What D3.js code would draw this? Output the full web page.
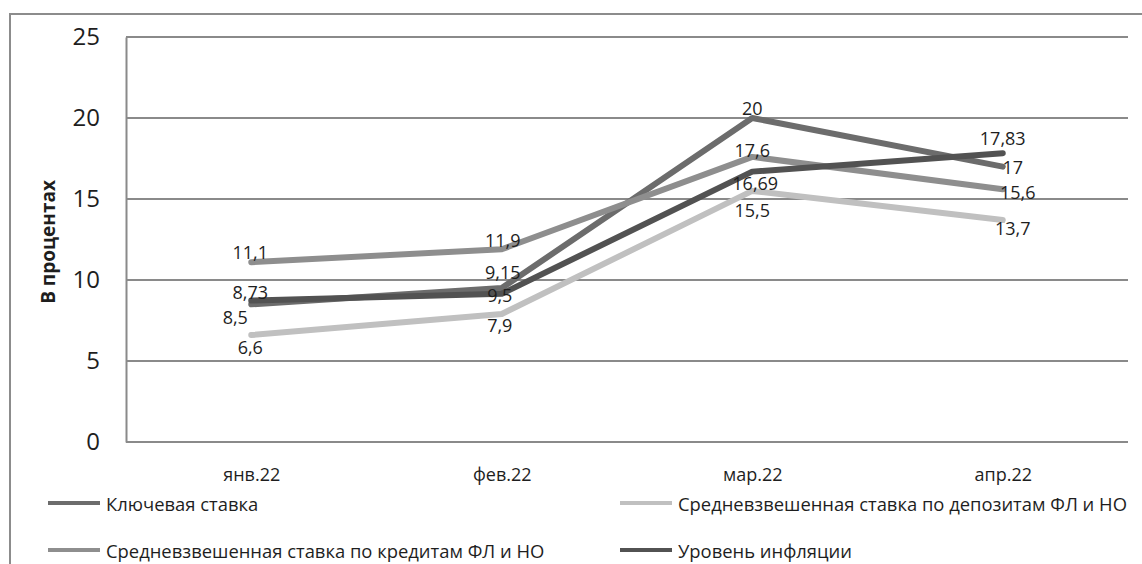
<!DOCTYPE html>
<html><head><meta charset="utf-8">
<script src="https://cdn.jsdelivr.net/npm/d3@7"></script>
<style>
html,body{margin:0;padding:0;background:#fff;}
svg text{font-family:"Open Sans","Noto Sans",sans-serif;fill:#1e1e1e;}
</style></head>
<body><svg id="c" width="1142" height="564"></svg>
<script>
// ---- data ----
const categories = ["янв.22", "фев.22", "мар.22", "апр.22"];
const keyRate     = [8.5, 9.5, 20, 17];
const depositRate = [6.6, 7.9, 15.5, 13.7];
const creditRate  = [11.1, 11.9, 17.6, 15.6];
const inflation   = [8.73, 9.15, 16.69, 17.83];
const yTicks = [0, 5, 10, 15, 20, 25];
const seriesNames = [
  "Ключевая ставка",
  "Средневзвешенная ставка по депозитам ФЛ и НО",
  "Средневзвешенная ставка по кредитам ФЛ и НО",
  "Уровень инфляции"
];
const yTitle = "В процентах";

// ---- styling / placement ----
const colors = ["#6c6c6c", "#c0c0c0", "#8e8e8e", "#525252"];
const series = [keyRate, depositRate, creditRate, inflation];
// label offsets (dx, dy) of label centre from the point
const labelOffsets = [
  [[-16, 13], [-2, 7], [0, -10], [10, 0]],
  [[-1, 12], [-2, 11], [0, 19], [10, 8]],
  [[-1, -10], [1, -9], [0, -7], [15, 3]],
  [[-1, -9], [1, -22], [3, 11], [0, -15]]
];

const svg = d3.select("#c");
// outer frame
svg.append("rect").attr("x", 10).attr("y", 14).attr("width", 1150).attr("height", 570)
  .attr("fill", "none").attr("stroke", "#8c8c8c").attr("stroke-width", 2);

const x = d3.scalePoint().domain(categories).range([126, 1128]).padding(0.5);
const y = d3.scaleLinear().domain([0, 25]).range([442, 37]);

// gridlines
svg.append("g").selectAll("line").data(yTicks.filter(t => t > 0)).join("line")
  .attr("x1", 126).attr("x2", 1128)
  .attr("y1", d => y(d)).attr("y2", d => y(d))
  .attr("stroke", "#8a8a8a").attr("stroke-width", 2);

// y axis
const yAxis = svg.append("g").attr("transform", "translate(126,0)")
  .call(d3.axisLeft(y).tickValues(yTicks).tickSize(0).tickPadding(26));
yAxis.select(".domain").attr("stroke", "#8a8a8a").attr("stroke-width", 2);
yAxis.selectAll("text").style("font-size", "24px").attr("fill", "#1e1e1e")
  .style("font-family", '"Open Sans","Noto Sans",sans-serif');

// x axis
const xAxis = svg.append("g").attr("transform", "translate(0,442)")
  .call(d3.axisBottom(x).tickSize(0).tickPadding(26));
xAxis.select(".domain").attr("stroke", "#8a8a8a").attr("stroke-width", 2)
  .attr("d", "M126,0H1128");
xAxis.selectAll("text").style("font-size", "18px").attr("fill", "#1e1e1e")
  .style("font-family", '"Open Sans","Noto Sans",sans-serif');

// y title
svg.append("text").attr("transform", "translate(48,242) rotate(-90)")
  .attr("text-anchor", "middle").attr("dominant-baseline", "central")
  .style("font-size", "19px").style("font-weight", "bold").text(yTitle);

// lines
const line = d3.line().x((d, i) => x(categories[i])).y(d => y(d));
series.forEach((s, k) => {
  svg.append("path").datum(s).attr("d", line)
    .attr("fill", "none").attr("stroke", colors[k]).attr("stroke-width", 6)
    .attr("stroke-linejoin", "round").attr("stroke-linecap", "round");
});

// data labels
series.forEach((s, k) => {
  svg.append("g").selectAll("text").data(s).join("text")
    .attr("x", (d, i) => x(categories[i]) + labelOffsets[k][i][0])
    .attr("y", (d, i) => y(d) + labelOffsets[k][i][1])
    .attr("text-anchor", "middle").attr("dominant-baseline", "central")
    .style("font-size", "18px")
    .text(d => String(d).replace(".", ","));
});

// legend
const legendPos = [[48, 503], [620, 503], [48, 550], [620, 550]];
seriesNames.forEach((name, k) => {
  const [lx, ly] = legendPos[k];
  svg.append("line").attr("x1", lx).attr("x2", lx + 52).attr("y1", ly).attr("y2", ly)
    .attr("stroke", colors[k]).attr("stroke-width", 4);
  svg.append("text").attr("x", lx + 58).attr("y", ly).attr("dominant-baseline", "central")
    .style("font-size", "18.4px").text(name);
});
</script></body></html>
